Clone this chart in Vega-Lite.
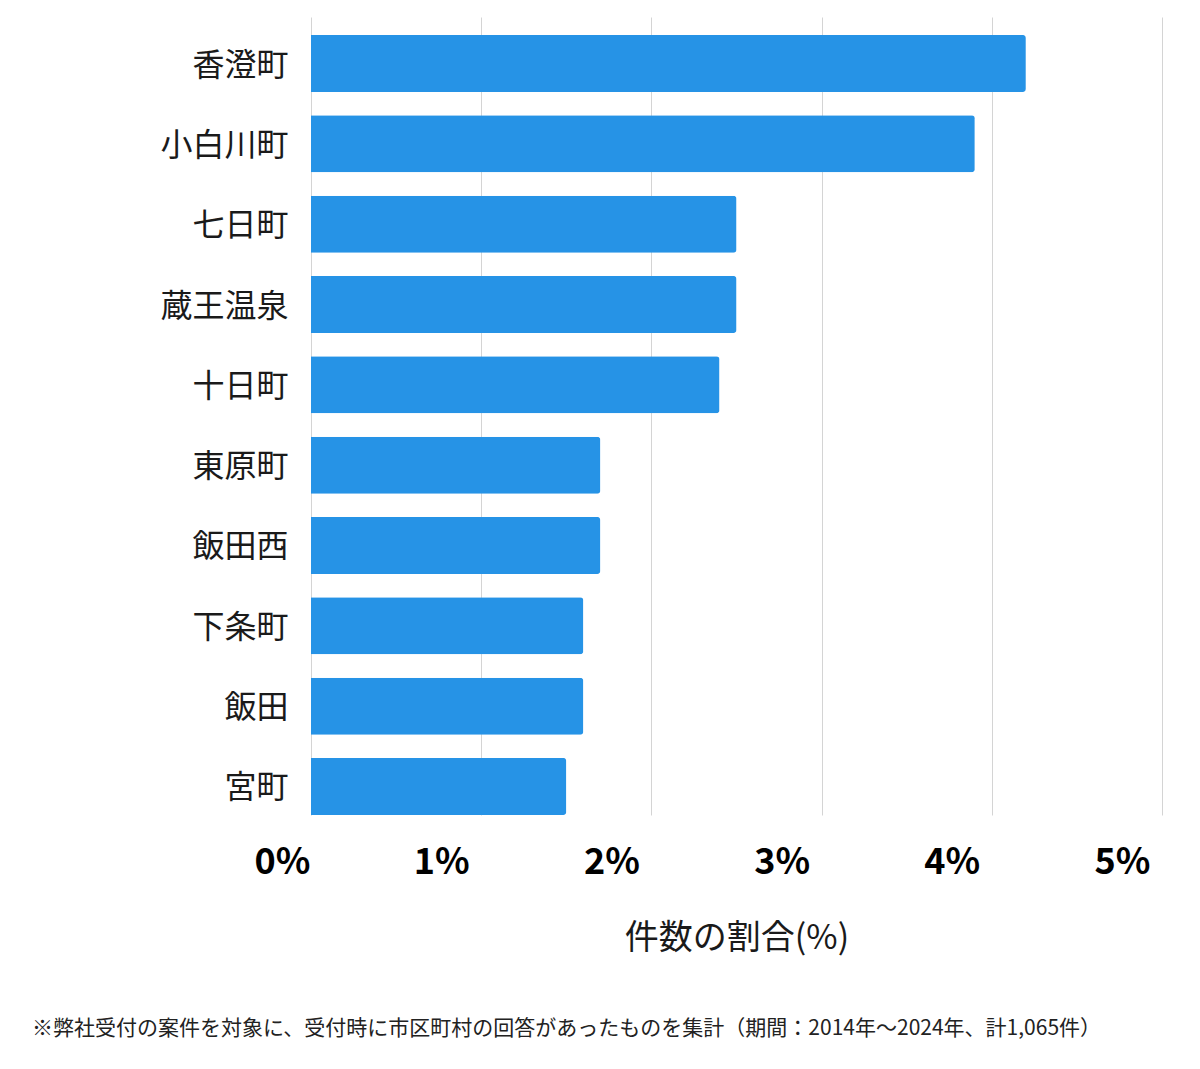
{
  "$schema": "https://vega.github.io/schema/vega-lite/v6.json",
  "autosize": "none",
  "width": 851,
  "height": 798,
  "padding": {"left": 311, "top": 17, "right": 38, "bottom": 254},
  "background": "white",
  "config": {
    "view": {"stroke": null},
    "font": "Noto Sans CJK JP"
  },
  "title": {
    "text": "※弊社受付の案件を対象に、受付時に市区町村の回答があったものを集計（期間：2014年～2024年、計1,065件）",
    "orient": "bottom",
    "anchor": "start",
    "frame": "group",
    "dx": -279,
    "offset": 63,
    "fontSize": 21,
    "fontWeight": "normal",
    "color": "#222222",
    "font": "Noto Sans CJK JP"
  },
  "data": {
    "values": [
      {"area": "香澄町", "pct": 4.2},
      {"area": "小白川町", "pct": 3.9},
      {"area": "七日町", "pct": 2.5},
      {"area": "蔵王温泉", "pct": 2.5},
      {"area": "十日町", "pct": 2.4},
      {"area": "東原町", "pct": 1.7},
      {"area": "飯田西", "pct": 1.7},
      {"area": "下条町", "pct": 1.6},
      {"area": "飯田", "pct": 1.6},
      {"area": "宮町", "pct": 1.5}
    ]
  },
  "mark": {"type": "bar", "color": "#2693e6", "cornerRadiusEnd": 3},
  "encoding": {
    "y": {
      "field": "area",
      "type": "nominal",
      "sort": null,
      "scale": {"paddingInner": 0.29, "paddingOuter": 0.112, "align": 1},
      "axis": {
        "title": null,
        "ticks": false,
        "domain": false,
        "grid": false,
        "labelPadding": 23,
        "labelFontSize": 32,
        "labelColor": "#1a1a1a",
        "labelFont": "Noto Sans CJK JP",
        "labelFontWeight": "normal",
        "labelOffset": 2
      }
    },
    "x": {
      "field": "pct",
      "type": "quantitative",
      "scale": {"domain": [0, 5], "nice": false},
      "axis": {
        "values": [0, 1, 2, 3, 4, 5],
        "labelExpr": "datum.value + '%'",
        "title": "件数の割合(%)",
        "titleFontSize": 34,
        "titleFontWeight": "normal",
        "titleColor": "#1a1a1a",
        "titleFont": "Noto Sans CJK JP",
        "titlePadding": 41,
        "domain": false,
        "ticks": false,
        "grid": true,
        "gridColor": "#d4d4d4",
        "gridWidth": 1,
        "labelFontSize": 36,
        "labelFontWeight": "bold",
        "labelColor": "#000000",
        "labelFont": "Noto Sans CJK JP",
        "labelPadding": 30,
        "labelFlush": false,
        "labelOffset": {"condition": {"test": "datum.value == 0", "value": -29}, "value": -40}
      }
    }
  }
}
